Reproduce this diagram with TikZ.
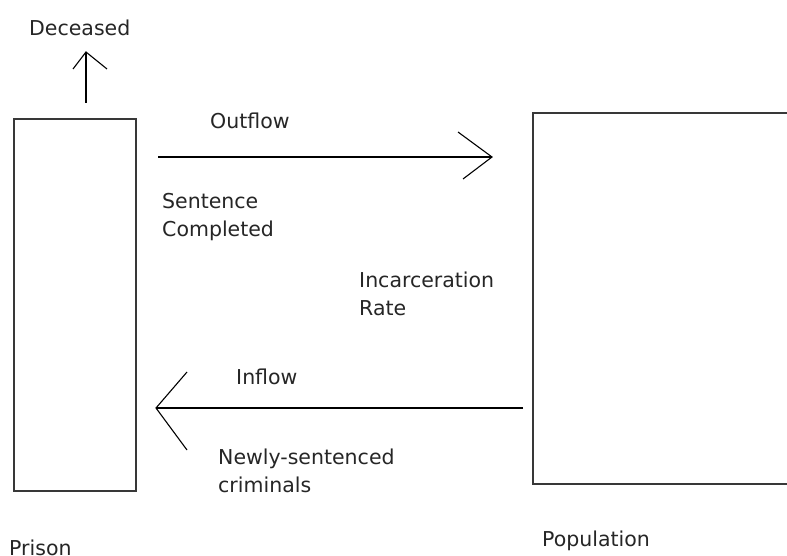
\documentclass[tikz,border=0pt]{standalone}
\usepackage{fontspec}
\setmainfont{DejaVu Sans}
\begin{document}
\begin{tikzpicture}[x=1pt,y=-1pt,
  box/.style={draw=black!78,line width=1.6pt},
  flow/.style={draw=black,line width=1.3pt},
  barb/.style={draw=black,line width=1.1pt},
  lbl/.style={font=\fontsize{20.5}{28}\selectfont,inner sep=0pt,anchor=west,align=left,text=black!85}]
\useasboundingbox (0,0) rectangle (787,556);
\clip (0,0) rectangle (787,556);
\fill[white] (0,0) rectangle (787,556);
% stocks
\node[box,minimum width=122pt,minimum height=372pt,inner sep=0pt,anchor=north west] (prison) at (13,118) {};
\draw[box] (533,113) rectangle (820,484);
\coordinate (poptl) at (533,113);
% coordinates for flows
\coordinate (decA) at (86,103);
\coordinate (decB) at (86,52);
\coordinate (outA) at (158,157);
\coordinate (outB) at (492,157);
\coordinate (inA) at (523,408);
\coordinate (inB) at (156,408);
% deceased
\draw[flow] (decA) -- (decB);
\draw[barb] (73,69) -- (decB) -- (107,69);
% outflow
\draw[flow] (outA) -- (outB);
\draw[barb] (458,132) -- (outB) -- (463,179);
% inflow
\draw[flow] (inA) -- (inB);
\draw[barb] (187,372) -- (inB) -- (187,450);
% labels
\node[lbl] (tdec) at (29,28) {Deceased};
\node[lbl] (tout) at (210,121) {Outflow};
\node[lbl] (tsen) at (162,217.5) {Sentence\\Completed};
\node[lbl] (tinc) at (359,293.5) {Incarceration\\Rate};
\node[lbl] (tin) at (236,377) {Inflow};
\node[lbl] (tnew) at (218,471) {Newly-sentenced\\criminals};
\node[lbl] (tpri) at (9,548) {Prison};
\node[lbl] (tpop) at (542,541) {Population};
\end{tikzpicture}
\end{document}
